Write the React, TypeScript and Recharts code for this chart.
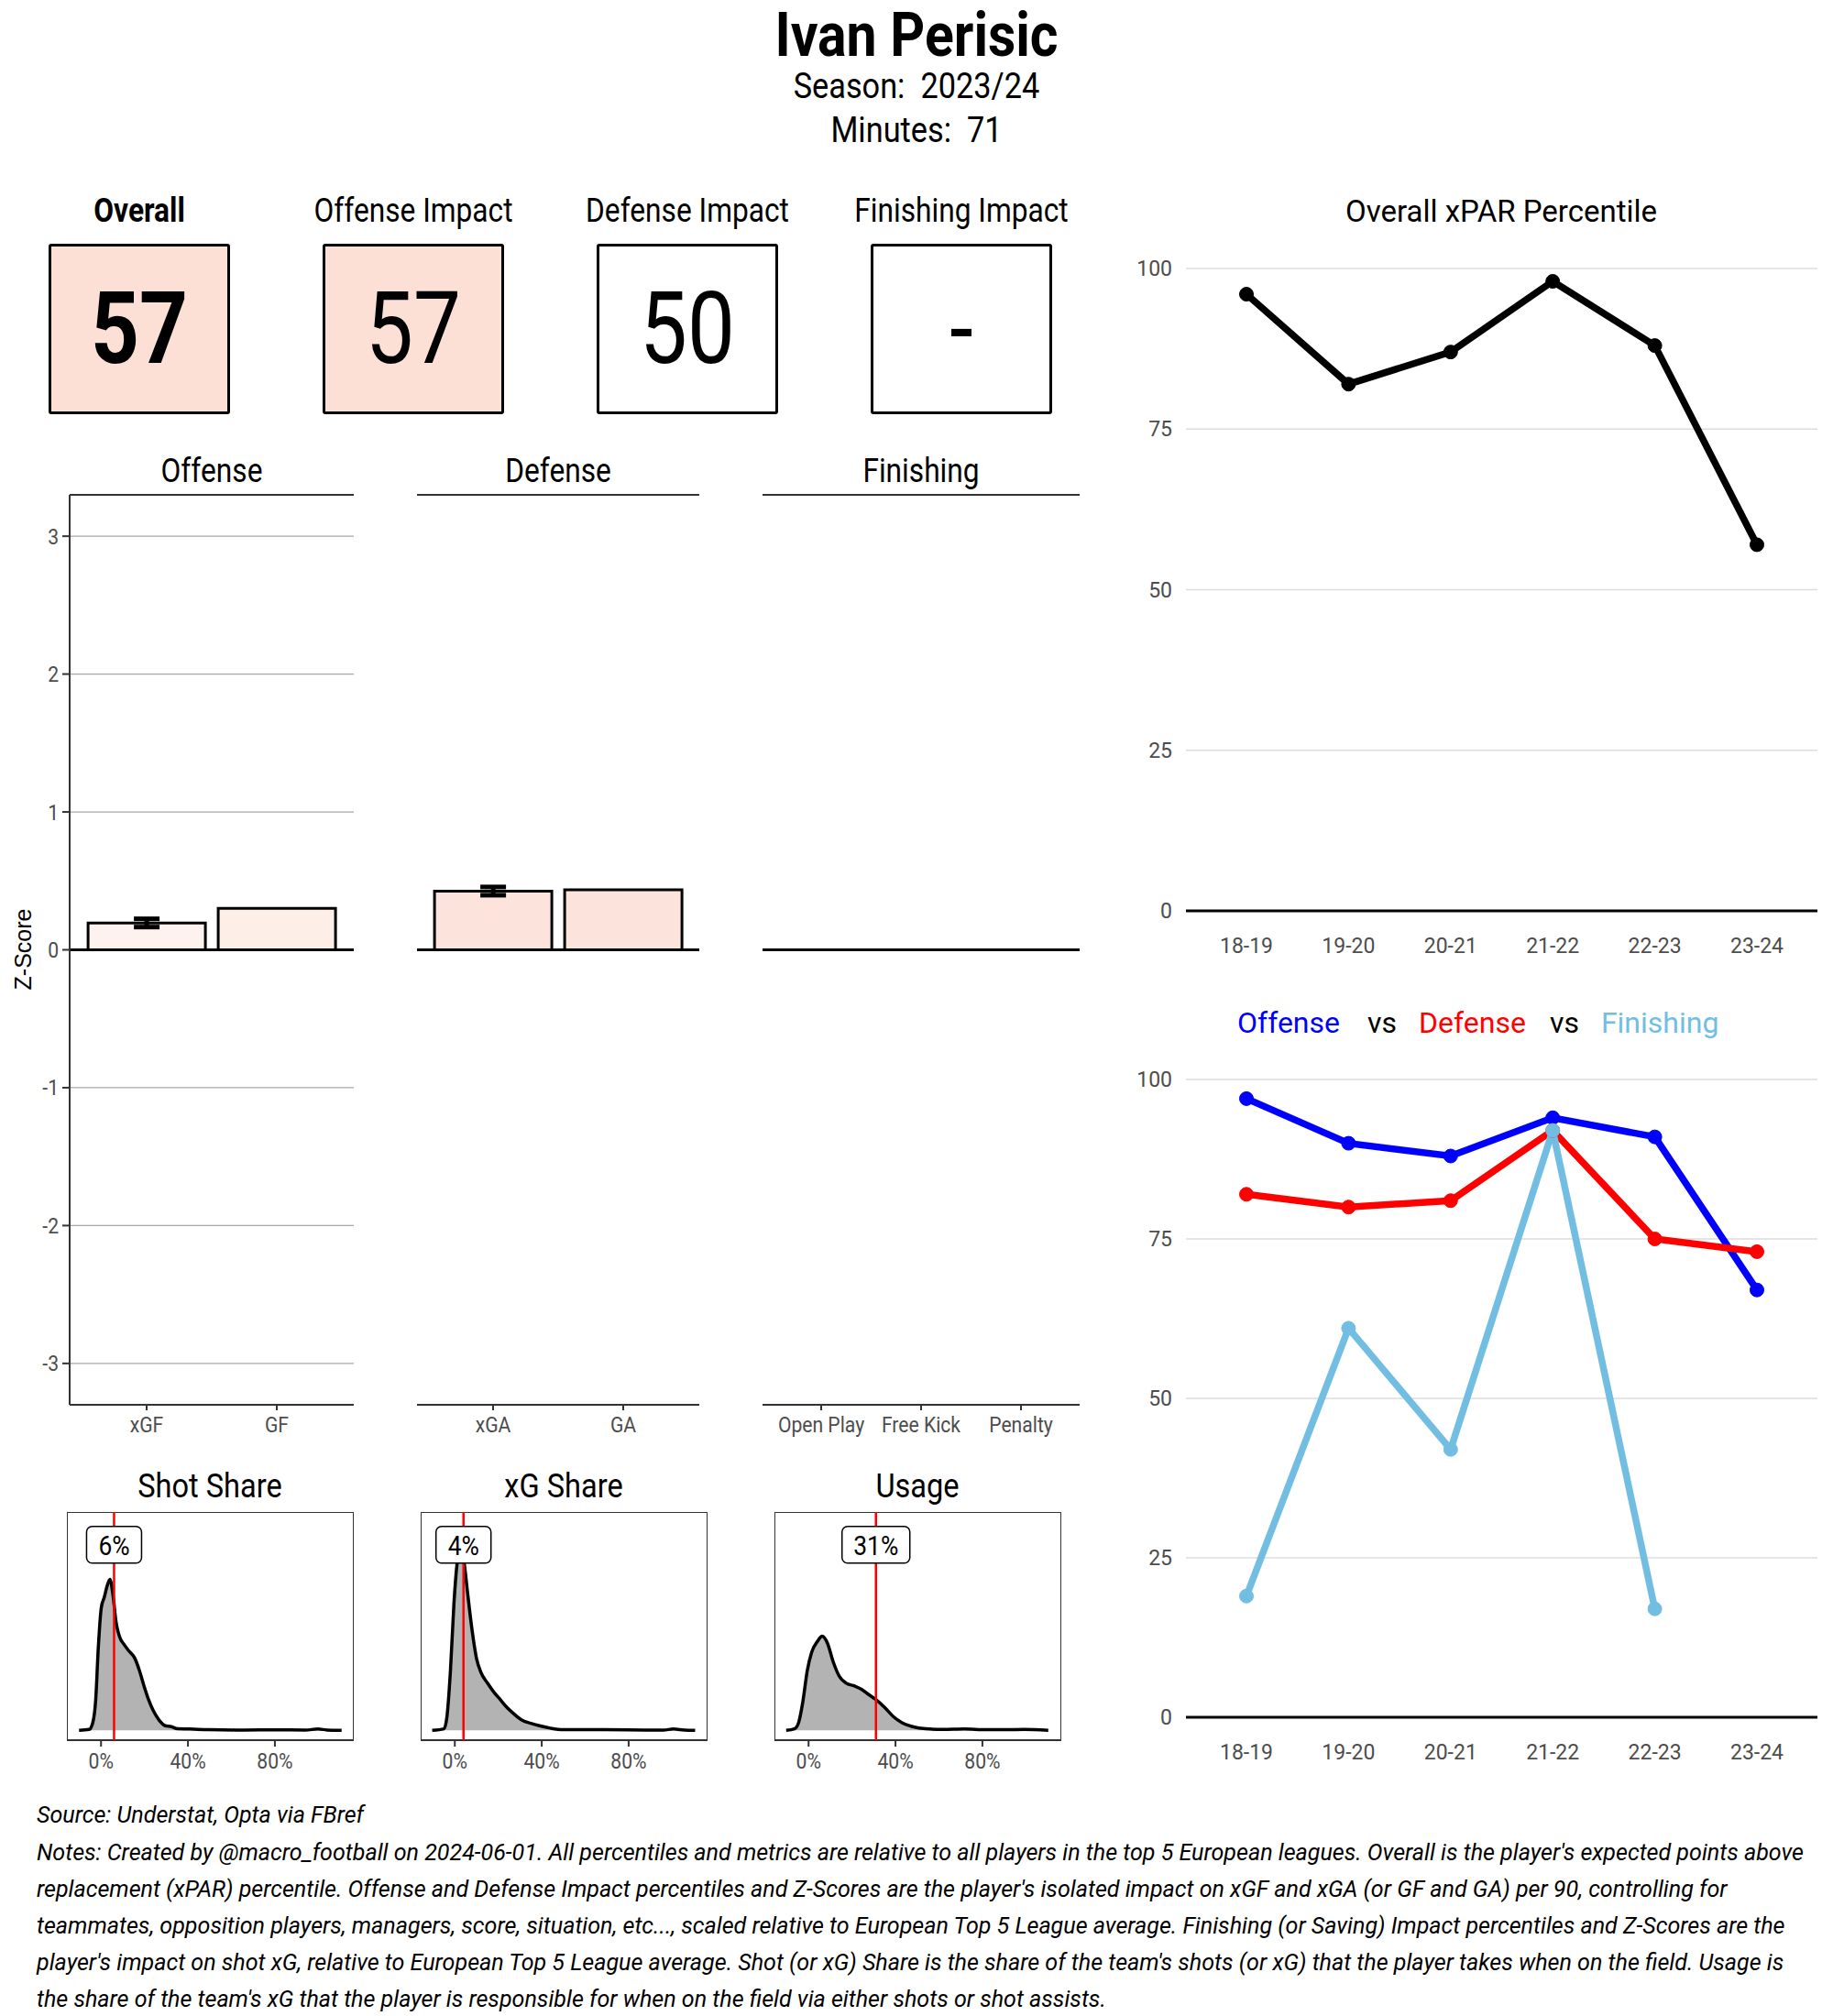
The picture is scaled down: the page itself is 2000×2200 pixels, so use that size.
import React from "react";
import {
  BarChart,
  Bar,
  Cell,
  ErrorBar,
  XAxis,
  YAxis,
  CartesianGrid,
  ReferenceLine,
  ReferenceArea,
  ReferenceDot,
  LineChart,
  Line,
  AreaChart,
  Area,
} from "recharts";

const ROBOTO = "Roboto, 'Liberation Sans', sans-serif";
const SANS = "'Liberation Sans', Arial, sans-serif";
const SQUEEZE = 0.88; // Roboto squeezed to stand in for Roboto Condensed

// header
const playerName = "Ivan Perisic";
const seasonLabel = "2023/24";
const minutesPlayed = "71";

// score tiles
const scoreLabels = ["Overall", "Offense Impact", "Defense Impact", "Finishing Impact"];
const scoreValues = ["57", "57", "50", "-"];
const scoreFills = ["#FDE0D5", "#FDE0D5", "#FFFFFF", "#FFFFFF"];

// z-score facets
const offenseCats = ["xGF", "GF"];
const offenseZ = [0.195, 0.3];
const offenseErr = [0.03, 0];
const offenseFills = ["#FEF2EE", "#FDEEE8"];

const defenseCats = ["xGA", "GA"];
const defenseZ = [0.426, 0.435];
const defenseErr = [0.03, 0];
const defenseFills = ["#FCE3DB", "#FCE3DB"];

const finishingCats = ["Open Play", "Free Kick", "Penalty"];
const finishingZ = [0, 0, 0];
const finishingErr = [0, 0, 0];
const finishingFills = ["#FFFFFF", "#FFFFFF", "#FFFFFF"];

const zTicks = [-3, -2, -1, 0, 1, 2, 3];

// percentile history
const seasons = ["18-19", "19-20", "20-21", "21-22", "22-23", "23-24"];
const overallPct = [96, 82, 87, 98, 88, 57];
const offensePct = [97, 90, 88, 94, 91, 67];
const defensePct = [82, 80, 81, 92, 75, 73];
const finishingPct: (number | null)[] = [19, 61, 42, 92, 17, null];
const pctTicks = [0, 25, 50, 75, 100];

// share densities (x in %, y relative density)
const shotShareX = [-10.1, -5.5, -3.8, -2.4, -1.3, 0.1, 1.5, 2.9, 4.1, 5.5, 6.9, 8.6, 10.7, 12.8, 15.6, 17.7, 19.8, 21.9, 24, 26.8, 29.6, 32.4, 35.2, 40.8, 49.3, 66, 80, 94, 99.8, 104, 110.7];
const shotShareY = [0, 0.4, 3.5, 14.7, 37, 56, 61, 66.4, 69.2, 62, 49.7, 42.7, 39.2, 36.4, 32.9, 27.3, 20.3, 14, 9.1, 4.6, 2.1, 1.7, 0.7, 0.6, 0.3, 0.15, 0.2, 0.15, 0.6, 0.15, 0];
const xgShareX = [-10.4, -5, -3.6, -2, -0.4, 1, 2.6, 4.4, 6, 8, 10, 12, 15, 18, 21, 24, 27, 31, 35, 39, 44, 50, 66, 80, 96, 100.6, 105.6, 110.6];
const xgShareY = [0, 0.7, 6.3, 27.3, 58, 76, 84, 76, 62, 45.5, 32.9, 26.6, 21.7, 17.5, 14, 10.5, 7.7, 4.6, 3.2, 2.1, 1, 0.3, 0.3, 0.2, 0.15, 0.6, 0.15, 0];
const usageX = [-10.3, -6.5, -4.6, -2.6, -0.6, 1.4, 4, 6.3, 8.7, 11.3, 14.3, 17.2, 21.2, 24.2, 27.1, 31.1, 35, 39, 43, 47.9, 53.9, 61.8, 71.7, 81.6, 90, 99.4, 110.3];
const usageY = [0, 0.7, 3.5, 13.3, 27.3, 35.7, 40.6, 43.1, 39.9, 31.5, 24.5, 21.7, 20.3, 18.9, 16.8, 14, 10.5, 6.3, 3.5, 1.7, 0.7, 0.4, 0.6, 0.3, 0.3, 0.4, 0];
const shareTitles = ["Shot Share", "xG Share", "Usage"];
const shareValues = [6, 4, 31];
const shareTicks = [0, 40, 80];

const sourceLine = "Source: Understat, Opta via FBref";
const noteLines = [
  "Notes: Created by @macro_football on 2024-06-01. All percentiles and metrics are relative to all players in the top 5 European leagues. Overall is the player's expected points above",
  "replacement (xPAR) percentile. Offense and Defense Impact percentiles and Z-Scores are the player's isolated impact on xGF and xGA (or GF and GA) per 90, controlling for",
  "teammates, opposition players, managers, score, situation, etc..., scaled relative to European Top 5 League average. Finishing (or Saving) Impact percentiles and Z-Scores are the",
  "player's impact on shot xG, relative to European Top 5 League average. Shot (or xG) Share is the share of the team's shots (or xG) that the player takes when on the field. Usage is",
  "the share of the team's xG that the player is responsible for when on the field via either shots or shot assists.",
];

function measure(text: string, font: string) {
  const ctx = document.createElement("canvas").getContext("2d");
  if (!ctx) return text.length * 12;
  ctx.font = font;
  return ctx.measureText(text).width;
}

function Text({ x, y, size, children, family = ROBOTO, weight = 400, align = "center", color = "#000", italic = false, squeeze = SQUEEZE, lh }: any) {
  const lineH = lh ?? Math.round(size * 1.3);
  const style: React.CSSProperties = {
    position: "absolute",
    top: y - lineH / 2,
    fontSize: size,
    lineHeight: `${lineH}px`,
    fontFamily: family,
    fontWeight: weight,
    fontStyle: italic ? "italic" : "normal",
    color,
    whiteSpace: "pre",
    transform: `scaleX(${squeeze})`,
  };
  if (align === "center") {
    style.left = x - 600;
    style.width = 1200;
    style.textAlign = "center";
    style.transformOrigin = "50% 50%";
  } else {
    style.left = x;
    style.transformOrigin = "0% 50%";
  }
  return <div style={style}>{children}</div>;
}

function XTick(props: any) {
  const { x, y, payload, size = 24, fmt } = props;
  const label = fmt ? fmt(payload.value) : payload.value;
  return (
    <text
      transform={`translate(${x},${y}) scale(${SQUEEZE},1)`}
      textAnchor="middle"
      dy="0.71em"
      fontSize={size}
      fontFamily={ROBOTO}
      fill="#4D4D4D"
    >
      {label}
    </text>
  );
}

function YTick(props: any) {
  const { x, y, payload } = props;
  return (
    <text
      transform={`translate(${x},${y}) scale(${SQUEEZE},1)`}
      textAnchor="end"
      dy="0.355em"
      fontSize={24}
      fontFamily={ROBOTO}
      fill="#4D4D4D"
    >
      {payload.value}
    </text>
  );
}

function ZPanel({ cats, values, errs, fills, left, width, padding, showAxis, rightBorder }: any) {
  const data = cats.map((c: string, i: number) => ({ cat: c, z: values[i], err: errs[i] }));
  const yw = showAxis ? 76 : 0;
  return (
    <div style={{ position: "absolute", left: left - yw, top: 530 }}>
      <BarChart
        width={width + yw}
        height={1053}
        data={data}
        margin={{ top: 10, right: 0, bottom: 0, left: 0 }}
        barCategoryGap="5%"
      >
        <CartesianGrid vertical={false} stroke="#A8A8A8" strokeWidth={1.2} />
        <XAxis
          dataKey="cat"
          interval={0}
          padding={{ left: padding, right: padding }}
          height={50}
          tickSize={6}
          tickMargin={7}
          axisLine={{ stroke: "#333", strokeWidth: 2 }}
          tickLine={{ stroke: "#333", strokeWidth: 2 }}
          tick={(p: any) => <XTick {...p} />}
        />
        <YAxis
          width={yw}
          domain={[-3.3, 3.3]}
          allowDataOverflow
          ticks={zTicks}
          tickSize={8}
          tickMargin={4}
          axisLine={showAxis ? { stroke: "#333", strokeWidth: 2 } : false}
          tickLine={showAxis ? { stroke: "#333", strokeWidth: 2 } : false}
          tick={showAxis ? (p: any) => <YTick {...p} /> : false}
        />
        {rightBorder && (
          <YAxis
            yAxisId="r"
            orientation="right"
            width={0}
            domain={[-3.3, 3.3]}
            tick={false}
            tickLine={false}
            axisLine={{ stroke: "#333", strokeWidth: 2 }}
          />
        )}
        <ReferenceLine y={3.3} stroke="#333" strokeWidth={2} />
        <ReferenceLine y={0} stroke="#000" strokeWidth={3} />
        <Bar dataKey="z" stroke="#000" strokeWidth={3} isAnimationActive={false}>
          {data.map((d: any, i: number) => (
            <Cell key={d.cat} fill={fills[i]} />
          ))}
          <ErrorBar dataKey="err" width={14} stroke="#000" strokeWidth={5} direction="y" />
        </Bar>
      </BarChart>
    </div>
  );
}

function PctChart({ top, height, series }: any) {
  const data = seasons.map((s, i) => {
    const row: any = { season: s };
    series.forEach((sr: any) => {
      row[sr.key] = sr.values[i];
    });
    return row;
  });
  return (
    <div style={{ position: "absolute", left: 1234, top: top - 20 }}>
      <LineChart width={749} height={height + 80} data={data} margin={{ top: 20, right: 0, bottom: 0, left: 0 }}>
        <CartesianGrid vertical={false} stroke="#DCDCDC" strokeWidth={1.3} />
        <XAxis
          dataKey="season"
          interval={0}
          padding={{ left: 66, right: 66 }}
          height={60}
          tickLine={false}
          tickSize={0}
          tickMargin={30}
          axisLine={{ stroke: "#000", strokeWidth: 3 }}
          tick={{ fill: "#4D4D4D", fontSize: 23, fontFamily: ROBOTO }}
        />
        <YAxis
          width={60}
          domain={[0, 100]}
          ticks={pctTicks}
          axisLine={false}
          tickLine={false}
          tickSize={0}
          tickMargin={15}
          tick={{ fill: "#4D4D4D", fontSize: 23, fontFamily: ROBOTO }}
        />
        {series.map((sr: any) => (
          <Line
            key={sr.key}
            dataKey={sr.key}
            stroke={sr.color}
            strokeWidth={7.5}
            dot={{ r: 7.5, fill: sr.color, stroke: sr.color, strokeWidth: 1 }}
            activeDot={false}
            connectNulls={false}
            isAnimationActive={false}
          />
        ))}
      </LineChart>
    </div>
  );
}

function ShareLabel(props: any) {
  const { cx, cy, text } = props;
  const w = 32 + text.length * 14;
  const h = 40;
  return (
    <g>
      <rect x={cx - w / 2} y={cy - h / 2} width={w} height={h} rx={6} ry={6} fill="#fff" stroke="#000" strokeWidth={1.5} />
      <text
        transform={`translate(${cx},${cy}) scale(${SQUEEZE},1)`}
        textAnchor="middle"
        dy="0.36em"
        fontSize={30}
        fontFamily={ROBOTO}
        fill="#000"
      >
        {text}
      </text>
    </g>
  );
}

function DensityChart({ left, xs, ys, marker }: any) {
  const data = xs.map((x: number, i: number) => ({ x, y: ys[i] }));
  const dom: [number, number] = [-15.7, 116.3];
  return (
    <div style={{ position: "absolute", left, top: 1650 }}>
      <AreaChart width={313} height={294} data={data} margin={{ top: 0, right: 0, bottom: 0, left: 0 }}>
        <XAxis
          type="number"
          dataKey="x"
          domain={dom}
          allowDataOverflow
          ticks={shareTicks}
          height={45}
          axisLine={false}
          tickLine={{ stroke: "#333", strokeWidth: 2 }}
          tickSize={7}
          tickMargin={7}
          tick={(p: any) => <XTick {...p} fmt={(v: number) => `${v}%`} />}
        />
        <YAxis width={0} domain={[-4.5, 100]} allowDataOverflow tick={false} axisLine={false} tickLine={false} />
        <Area
          dataKey="y"
          type="monotone"
          fill="#B3B3B3"
          fillOpacity={1}
          stroke="#000"
          strokeWidth={3.5}
          isAnimationActive={false}
          dot={false}
          activeDot={false}
        />
        <ReferenceLine x={marker} stroke="#FF0000" strokeWidth={2.5} />
        <ReferenceArea x1={dom[0]} x2={dom[1]} y1={-4.5} y2={100} fill="none" stroke="#333" strokeWidth={2} ifOverflow="visible" />
        <ReferenceDot x={marker} y={85} r={1} shape={(p: any) => <ShareLabel {...p} text={`${marker}%`} />} />
      </AreaChart>
    </div>
  );
}

export default function App() {
  const boxCenters = [152, 451, 750, 1049];
  const panelCenters = [231, 609, 1005];
  const shareLefts = [73, 459, 845];
  const shareData = [
    [shotShareX, shotShareY],
    [xgShareX, xgShareY],
    [usageX, usageY],
  ];
  const noteFont = `italic 26px Roboto`;
  const noteSqueeze = Math.min(1, 1928 / measure(noteLines[0], noteFont));
  return (
    <div style={{ position: "absolute", left: 0, top: 0, width: 2000, height: 2200, background: "#fff", overflow: "hidden" }}>
      <Text x={1000} y={38} size={67} lh={58} weight={700}>{playerName}</Text>
      <Text x={1000} y={94} size={39} lh={38}>{`Season:  ${seasonLabel}`}</Text>
      <Text x={1000} y={142} size={39} lh={38}>{`Minutes:  ${minutesPlayed}`}</Text>

      {scoreLabels.map((l, i) => (
        <React.Fragment key={l}>
          <Text x={boxCenters[i]} y={230} size={36} weight={i === 0 ? 700 : 400}>{l}</Text>
          <div
            style={{
              position: "absolute",
              left: boxCenters[i] - 99,
              top: 266,
              width: 192,
              height: 180,
              border: "3px solid #000",
              borderRadius: 3,
              background: scoreFills[i],
            }}
          />
          <Text x={boxCenters[i]} y={359} size={110} lh={110} squeeze={0.84} weight={i === 0 ? 700 : 400}>{scoreValues[i]}</Text>
        </React.Fragment>
      ))}

      {["Offense", "Defense", "Finishing"].map((t, i) => (
        <Text key={t} x={panelCenters[i]} y={514} size={36}>{t}</Text>
      ))}
      <div
        style={{
          position: "absolute",
          left: 25 - 60,
          top: 1036 - 14,
          width: 120,
          height: 28,
          lineHeight: "28px",
          fontSize: 25,
          fontFamily: SANS,
          textAlign: "center",
          transform: "rotate(-90deg)",
        }}
      >
        Z-Score
      </div>
      <ZPanel cats={offenseCats} values={offenseZ} errs={offenseErr} fills={offenseFills} left={76} width={310} padding={13} showAxis />
      <ZPanel cats={defenseCats} values={defenseZ} errs={defenseErr} fills={defenseFills} left={455} width={308} padding={12} />
      <ZPanel cats={finishingCats} values={finishingZ} errs={finishingErr} fills={finishingFills} left={832} width={346} padding={9.5} rightBorder />

      {shareTitles.map((t, i) => (
        <React.Fragment key={t}>
          <Text x={shareLefts[i] + 156} y={1622} size={37}>{t}</Text>
          <DensityChart left={shareLefts[i]} xs={shareData[i][0]} ys={shareData[i][1]} marker={shareValues[i]} />
        </React.Fragment>
      ))}

      <Text x={1638} y={230} size={33} squeeze={1}>Overall xPAR Percentile</Text>
      <PctChart top={292.5} height={701} series={[{ key: "overall", values: overallPct, color: "#000" }]} />

      <div
        style={{
          position: "absolute",
          left: 1350,
          top: 1116 - 16,
          fontSize: 32,
          lineHeight: "32px",
          fontFamily: ROBOTO,
          whiteSpace: "pre",
        }}
      >
        <span style={{ color: "#0000FF" }}>Offense</span>
        <span style={{ color: "#000", marginLeft: 30 }}>vs</span>
        <span style={{ color: "#FF0000", marginLeft: 24 }}>Defense</span>
        <span style={{ color: "#000", marginLeft: 26 }}>vs</span>
        <span style={{ color: "#72BEE2", marginLeft: 24 }}>Finishing</span>
      </div>
      <PctChart
        top={1177.7}
        height={696}
        series={[
          { key: "offense", values: offensePct, color: "#0000FF" },
          { key: "defense", values: defensePct, color: "#FF0000" },
          { key: "finishing", values: finishingPct, color: "#72BEE2" },
        ]}
      />

      <Text x={40} y={1980} size={26} lh={34} align="left" italic squeeze={noteSqueeze}>{sourceLine}</Text>
      {noteLines.map((l, i) => (
        <Text key={i} x={40} y={2021 + i * 40} size={26} lh={34} align="left" italic squeeze={noteSqueeze}>{l}</Text>
      ))}
    </div>
  );
}
